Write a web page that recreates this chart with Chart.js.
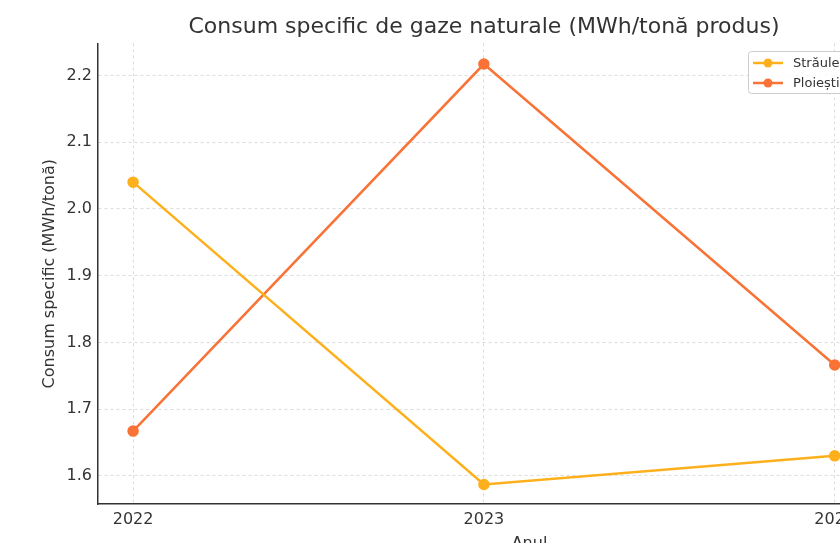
<!DOCTYPE html>
<html>
<head>
<meta charset="utf-8">
<script src="https://cdn.jsdelivr.net/npm/chart.js@4.4.0/dist/chart.umd.min.js"></script>
<style>
  html, body { margin: 0; padding: 0; background: #fff; overflow: hidden; }
  #wrap { position: absolute; left: 0; top: 0; width: 968px; height: 560px; }
</style>
</head>
<body>
<div id="wrap"><canvas id="myChart" width="968" height="560"></canvas></div>
<script>
// years on the x axis
var years = [2022, 2023, 2024];
// specific consumption, MWh per tonne
var straulesti = [2.04, 1.587, 1.63];
var ploiesti = [1.667, 2.217, 1.766];
// y tick labels
var yTicks = [1.6, 1.7, 1.8, 1.9, 2.0, 2.1, 2.2];

var font = 'DejaVu Sans';
var textColor = '#333';

function toPoints(values) {
    return years.map(function(y, i) { return { x: y, y: values[i] }; });
}

// matplotlib style legend in the upper right corner of the axes
var boxLegend = {
    id: 'boxLegend',
    afterDraw: function(chart) {
        var ctx = chart.ctx;
        var x0 = 748, y0 = 51, rowH = 20;
        ctx.save();
        ctx.fillStyle = 'rgba(255,255,255,0.85)';
        ctx.strokeStyle = '#cccccc';
        ctx.lineWidth = 1;
        ctx.beginPath();
        ctx.roundRect(x0 + 0.5, y0 + 0.5, 140, 42, 3);
        ctx.fill();
        ctx.stroke();
        ctx.font = '13px ' + font;
        ctx.textBaseline = 'middle';
        chart.data.datasets.forEach(function(ds, i) {
            var y = y0 + 12 + i * rowH;
            ctx.strokeStyle = ds.borderColor;
            ctx.lineWidth = 2.5;
            ctx.beginPath();
            ctx.moveTo(x0 + 5, y);
            ctx.lineTo(x0 + 35, y);
            ctx.stroke();
            ctx.fillStyle = ds.borderColor;
            ctx.beginPath();
            ctx.arc(x0 + 20, y, 4.5, 0, Math.PI * 2);
            ctx.fill();
            ctx.fillStyle = textColor;
            ctx.fillText(ds.label, x0 + 45, y + 1);
        });
        ctx.restore();
    }
};

var ctx = document.getElementById('myChart').getContext('2d');
var chart = new Chart(ctx, {
    type: 'line',
    data: {
        datasets: [{
            label: 'Străulești',
            data: toPoints(straulesti),
            borderColor: '#FDB01C',
            backgroundColor: '#FDB01C',
            borderWidth: 2.5,
            pointRadius: 4.5,
            pointHoverRadius: 4.5
        }, {
            label: 'Ploiești',
            data: toPoints(ploiesti),
            borderColor: '#F97236',
            backgroundColor: '#F97236',
            borderWidth: 2.5,
            pointRadius: 4.5,
            pointHoverRadius: 4.5
        }]
    },
    options: {
        responsive: false,
        animation: false,
        devicePixelRatio: 1,
        layout: { padding: 0 },
        plugins: {
            legend: { display: false },
            tooltip: { enabled: false },
            title: {
                display: true,
                text: 'Consum specific de gaze naturale (MWh/tonă produs)',
                color: textColor,
                font: { family: font, size: 22, weight: 'normal' },
                padding: { top: 14, bottom: 3 }
            }
        },
        scales: {
            x: {
                type: 'linear',
                min: 2021.9,
                max: 2024.36,
                afterBuildTicks: function(scale) {
                    scale.ticks = years.map(function(v) { return { value: v }; });
                },
                afterFit: function(scale) { scale.height = 56; },
                ticks: {
                    color: textColor,
                    font: { family: font, size: 16 },
                    padding: 6,
                    autoSkip: false,
                    maxRotation: 0,
                    callback: function(v) { return String(v); }
                },
                grid: { color: '#dcdcdc', drawTicks: false },
                border: { display: true, color: '#333', width: 1.5, dash: [3, 3] },
                title: {
                    display: true,
                    text: 'Anul',
                    color: textColor,
                    font: { family: font, size: 16 },
                    padding: { top: 0, bottom: 7 }
                }
            },
            y: {
                min: 1.5578,
                max: 2.2479,
                afterBuildTicks: function(scale) {
                    scale.ticks = yTicks.map(function(v) { return { value: v }; });
                },
                afterFit: function(scale) { scale.width = 98; },
                ticks: {
                    color: textColor,
                    font: { family: font, size: 16 },
                    padding: 6,
                    callback: function(v) { return v.toFixed(1); }
                },
                grid: { color: '#dcdcdc', drawTicks: false },
                border: { display: true, color: '#333', width: 1.5, dash: [3, 3] },
                title: {
                    display: true,
                    text: 'Consum specific (MWh/tonă)',
                    color: textColor,
                    font: { family: font, size: 16 },
                    padding: { top: 40, bottom: 0 }
                }
            }
        }
    },
    plugins: [boxLegend]
});
</script>
</body>
</html>
